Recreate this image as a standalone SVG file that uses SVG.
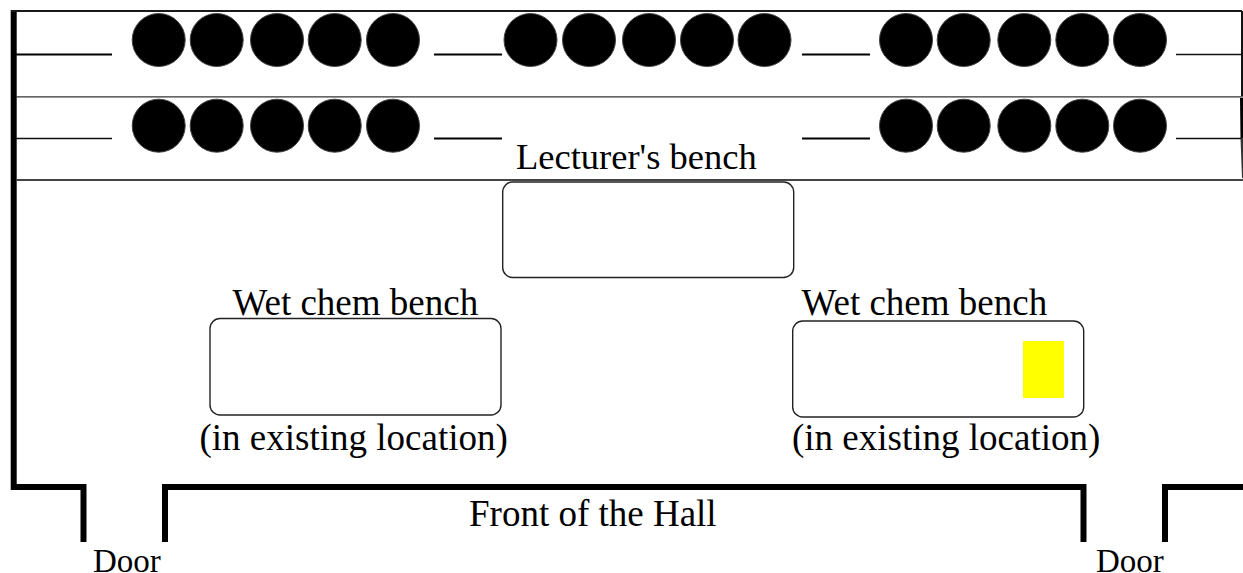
<svg xmlns="http://www.w3.org/2000/svg" width="1243" height="573" viewBox="0 0 1243 573">
<style>
text{font-family:"Liberation Serif","Times New Roman",serif;font-size:37px;fill:#000}
text.door{font-size:33px}
.seat{fill:#000;stroke:#444;stroke-width:1}
.wall{fill:none;stroke:#000;stroke-width:6;stroke-linejoin:miter}
.thin{fill:none;stroke:#111;stroke-width:1.3}
.dash{fill:none;stroke:#000;stroke-width:2}
.bench{fill:#fff;stroke:#222;stroke-width:1.4}
</style>
<rect width="1243" height="573" fill="#fff"/>
<g id="walls">
<path class="wall" d="M13.700 10V487H83.500V542"/>
<path class="wall" d="M165 542V487H1083.500V542"/>
<path class="wall" d="M1165 542V487H1243"/>
<path fill="none" stroke="#1a1a1a" stroke-width="2" d="M11 11H1242"/>
<path fill="none" stroke="#111" stroke-width="2" d="M1242 11V96"/>
<path fill="#000" d="M1240 98H1243V138H1240.500Z"/>
<path fill="#333" d="M1240.500 138H1243V178H1242Z"/>
<path fill="none" stroke="#333" stroke-width="1.300" d="M16 96.800H1243"/>
<path fill="none" stroke="#444" stroke-width="1.800" d="M16 180H1243"/>
</g>
<g id="connectors">
<path class="dash" d="M16 54.500H112M434 54.500H502M802 54.500H870M434 138.500H502M802 138.500H870"/>
<path class="thin" d="M1176 54.500H1241M1176 138.500H1241M16 138.500H112"/>
</g>
<g id="seats-row-1">
<circle class="seat" cx="158.700" cy="40" r="26.500"/><circle class="seat" cx="216.700" cy="40" r="26.500"/><circle class="seat" cx="277" cy="40" r="26.500"/><circle class="seat" cx="334.700" cy="40" r="26.500"/><circle class="seat" cx="393" cy="40" r="26.500"/>
<circle class="seat" cx="530.500" cy="40" r="26.500"/><circle class="seat" cx="589" cy="40" r="26.500"/><circle class="seat" cx="649" cy="40" r="26.500"/><circle class="seat" cx="707" cy="40" r="26.500"/><circle class="seat" cx="764.500" cy="40" r="26.500"/>
<circle class="seat" cx="906" cy="40" r="26.500"/><circle class="seat" cx="963.700" cy="40" r="26.500"/><circle class="seat" cx="1024.300" cy="40" r="26.500"/><circle class="seat" cx="1082.300" cy="40" r="26.500"/><circle class="seat" cx="1140" cy="40" r="26.500"/>
</g>
<g id="seats-row-2">
<circle class="seat" cx="158.700" cy="125.700" r="26.500"/><circle class="seat" cx="216.700" cy="125.700" r="26.500"/><circle class="seat" cx="277" cy="125.700" r="26.500"/><circle class="seat" cx="334.700" cy="125.700" r="26.500"/><circle class="seat" cx="393" cy="125.700" r="26.500"/>
<circle class="seat" cx="906" cy="125.700" r="26.500"/><circle class="seat" cx="963.700" cy="125.700" r="26.500"/><circle class="seat" cx="1024.300" cy="125.700" r="26.500"/><circle class="seat" cx="1082.300" cy="125.700" r="26.500"/><circle class="seat" cx="1140" cy="125.700" r="26.500"/>
</g>
<g id="lecturers-bench">
<rect class="bench" x="502.700" y="182" width="291" height="95.500" rx="10"/>
<text x="516" y="169" font-size="36.500" style="font-size:36.500px">Lecturer's bench</text>
</g>
<g id="wet-chem-left">
<rect class="bench" x="210" y="318.500" width="291" height="96.500" rx="10"/>
<text x="232.500" y="315">Wet chem bench</text>
<text x="199.500" y="450">(in existing location)</text>
</g>
<g id="wet-chem-right">
<rect class="bench" x="792.700" y="321" width="291" height="96" rx="10"/>
<rect x="1023" y="341" width="41" height="57" fill="#ff0"/>
<text x="801.500" y="315">Wet chem bench</text>
<text x="792" y="450">(in existing location)</text>
</g>
<g id="labels">
<text x="469" y="526">Front of the Hall</text>
<text class="door" x="93" y="571.500">Door</text>
<text class="door" x="1096" y="571.500">Door</text>
</g>
</svg>
